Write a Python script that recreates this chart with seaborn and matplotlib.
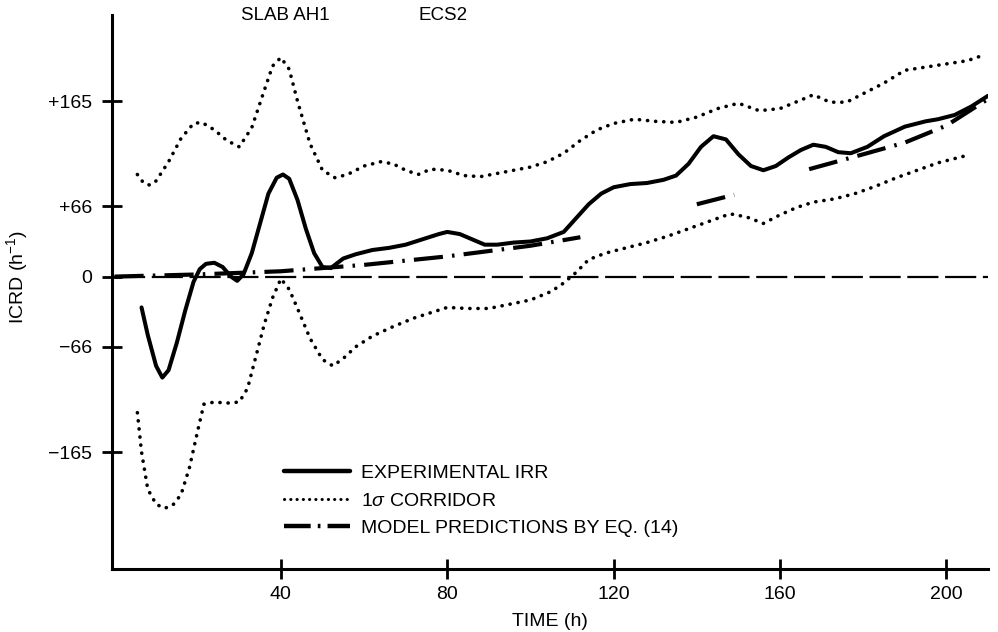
import matplotlib
matplotlib.use("Agg")
import matplotlib.pyplot as plt
import seaborn as sns
import pandas as pd
from matplotlib.lines import Line2D

# Experimental IRR (solid)
exp_t = [6.5, 8, 10, 11.5, 13, 15, 17, 19, 20.5, 22, 24, 26, 28, 29.5, 31, 33, 35, 37, 39, 40.5,
         42, 44, 46, 48, 50, 52, 55, 58, 62, 66, 70, 74, 78, 80, 83, 86, 89, 92, 96, 100,
         104, 108, 111, 114, 117, 120, 124, 128, 132, 135, 138, 141, 144, 147, 150, 153, 156,
         159, 162, 165, 168, 171, 174, 177, 181, 185, 190, 195, 198, 202, 206, 210]
exp_v = [-29, -55, -84, -95, -88, -62, -32, -5, 7, 12, 13, 9, 0, -4, 2, 22, 50, 78, 93, 96,
         92, 72, 45, 22, 9, 8, 17, 21, 25, 27, 30, 35, 40, 42, 40, 35, 30, 30, 32, 33,
         36, 42, 55, 68, 78, 84, 87, 88, 91, 95, 106, 122, 132, 129, 115, 104, 100,
         104, 112, 119, 124, 122, 117, 116, 122, 132, 141, 146, 148, 152, 160, 170]

# 1-sigma corridor, upper bound
up_t = [5.5, 7, 8.5, 10, 13, 16, 19, 21, 24, 27, 30, 33, 36, 38, 40, 42, 44, 47, 50, 53,
        56, 60, 64, 67, 70, 73, 76, 80, 84, 88, 92, 96, 100, 104, 108, 112, 116, 120, 125,
        130, 135, 140, 145, 150, 155, 160, 165, 168, 172, 176, 180, 185, 190, 195, 200, 205, 208]
up_v = [96, 88, 86, 90, 108, 130, 144, 145, 138, 128, 122, 140, 175, 198, 206, 195, 165, 125, 100, 93,
        96, 104, 108, 106, 100, 96, 101, 100, 95, 94, 97, 100, 103, 108, 116, 128, 138, 144, 148,
        146, 145, 150, 158, 163, 156, 158, 166, 171, 164, 164, 172, 182, 194, 197, 200, 203, 207]

# 1-sigma corridor, lower bound
lo_t = [5.5, 6.5, 8, 10, 12, 14, 16, 18, 20, 21.5, 24, 27, 30, 32, 34, 36, 38, 40, 42, 44,
        47, 50, 52.5, 55, 58, 62, 67, 72, 76, 80, 85, 90, 95, 100, 105, 108, 111, 114, 118,
        123, 128, 133, 138, 143, 148, 152, 156, 160, 164, 168, 173, 178, 183, 188, 193, 198, 205]
lo_v = [-128, -165, -200, -214, -218, -215, -205, -180, -145, -120, -118, -119, -118, -105, -75, -45, -20, -2, -12, -30,
        -58, -78, -84, -77, -66, -56, -47, -39, -34, -29, -30, -30, -26, -22, -14, -6, 4, 16, 22,
        27, 32, 38, 45, 52, 59, 56, 50, 58, 65, 70, 73, 78, 85, 93, 100, 107, 114]

# Model predictions by Eq. (14), in three pieces
mod_t = [0, 20, 40, 60, 80, 100, 112,
         140, 149,
         167, 180, 190, 200, 210]
mod_v = [0, 2, 5, 11, 19, 29, 37,
         68, 77,
         101, 115, 126, 142, 167]
mod_seg = [1, 1, 1, 1, 1, 1, 1,
           2, 2,
           3, 3, 3, 3, 3]

# Reference level
zero_t = [0, 210]
zero_v = [0, 0]

ytick_vals = [-165, -66, 0, 66, 165]
ytick_text = ["\u2212165", "\u221266", "0", "+66", "+165"]
xtick_vals = [40, 80, 120, 160, 200]
xtick_text = ["40", "80", "120", "160", "200"]

ink = "black"
sns.set_theme(style="ticks")
plt.rcParams["font.family"] = ["Liberation Sans", "DejaVu Sans"]
plt.rcParams["mathtext.fontset"] = "custom"
plt.rcParams["mathtext.rm"] = "Liberation Sans"
plt.rcParams["mathtext.it"] = "Liberation Sans:italic"
for key in ("text.color", "axes.labelcolor", "axes.edgecolor"):
    plt.rcParams[key] = ink

fig = plt.figure(figsize=(9.98, 6.32), dpi=100)
ax = fig.add_axes([112 / 998, 63 / 632, (988 - 112) / 998, (569 - 15) / 632])

exp_df = pd.DataFrame({"t": exp_t, "v": exp_v})
up_df = pd.DataFrame({"t": up_t, "v": up_v})
lo_df = pd.DataFrame({"t": lo_t, "v": lo_v})
mod_df = pd.DataFrame({"t": mod_t, "v": mod_v, "seg": mod_seg})
zero_df = pd.DataFrame({"t": zero_t, "v": zero_v})

dot_style = (0, (0.05, 2.2))
dashdot_style = (0, (7, 2.2, 0.6, 2.2))

sns.lineplot(data=zero_df, x="t", y="v", ax=ax, color=ink, lw=1.6,
             linestyle=(0, (14, 3)), sort=False)
sns.lineplot(data=up_df, x="t", y="v", ax=ax, color=ink, lw=2.6,
             linestyle=dot_style, dash_capstyle="round", sort=False)
sns.lineplot(data=lo_df, x="t", y="v", ax=ax, color=ink, lw=2.6,
             linestyle=dot_style, dash_capstyle="round", sort=False)
sns.lineplot(data=mod_df, x="t", y="v", units="seg", estimator=None, ax=ax, color=ink,
             lw=3.0, linestyle=dashdot_style, sort=False)
sns.lineplot(data=exp_df, x="t", y="v", ax=ax, color=ink, lw=2.9,
             solid_capstyle="round", sort=False)

ax.set_xlim(-0.6, 210)
ax.set_ylim(-275, 246)
ax.set_xticks(xtick_vals, xtick_text)
ax.set_yticks(ytick_vals, ytick_text)
ax.tick_params(axis="both", which="major", direction="inout", length=15, width=2.0,
               colors=ink, labelsize=14, bottom=True, left=True)
ax.tick_params(axis="x", pad=5)
ax.tick_params(axis="y", pad=7)

for side in ("top", "right"):
    ax.spines[side].set_visible(False)
for side in ("left", "bottom"):
    ax.spines[side].set_linewidth(2.2)
    ax.spines[side].set_color(ink)

ax.set_xlabel("TIME (h)", fontsize=14, labelpad=7)
ax.set_ylabel("ICRD (h$^{-1}$)", fontsize=14)
ax.yaxis.set_label_coords(-0.094, (0 + 275) / (246 + 275))

# Experiment labels along the top
ax.text(41, 1.0, "SLAB AH1", transform=ax.get_xaxis_transform(), ha="center",
        va="center", fontsize=13.5)
ax.text(79, 1.0, "ECS2", transform=ax.get_xaxis_transform(), ha="center",
        va="center", fontsize=13.5)

handles = [
    Line2D([], [], color=ink, lw=3.2),
    Line2D([], [], color=ink, lw=2.2, linestyle=(0, (0.05, 2.0)), dash_capstyle="round"),
    Line2D([], [], color=ink, lw=3.2, linestyle=(0, (6, 1.6, 0.6, 1.6))),
]
labels = ["EXPERIMENTAL IRR", "1$\\sigma$ CORRIDOR", "MODEL PREDICTIONS BY EQ. (14)"]
ax.legend(handles, labels, loc="upper left", bbox_to_anchor=(270 / 998, 1 - 451 / 632),
          bbox_transform=fig.transFigure, frameon=False, fontsize=14,
          handlelength=3.4, handletextpad=0.6, labelspacing=0.5, borderpad=0.2)

fig.savefig("out.png", dpi=100)
